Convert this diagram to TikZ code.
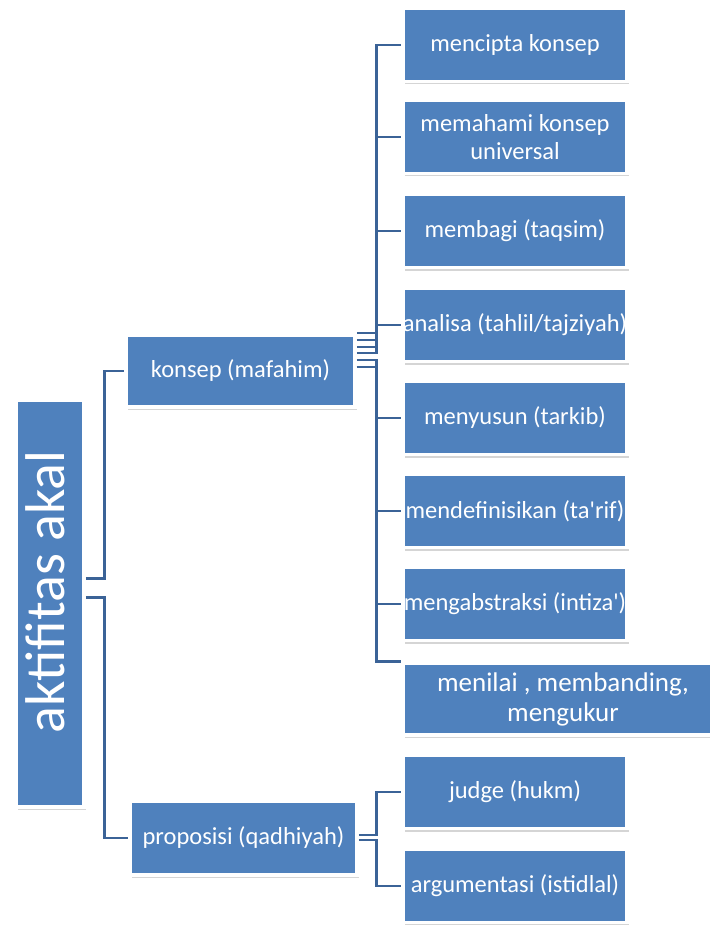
\documentclass[tikz,border=0pt]{standalone}
\usepackage{fontspec}
\setmainfont{Carlito}
\usepackage{xcolor}
\usetikzlibrary{positioning,shadows}

\definecolor{boxblue}{HTML}{4F81BD}
\definecolor{linkblue}{HTML}{3B6397}

\begin{document}
\begin{tikzpicture}[x=1pt, y=-1pt,
    box/.style={fill=boxblue, draw=white, line width=3.5pt, text=white,
        align=center, inner xsep=-8pt, inner ysep=2pt,
        minimum width=224pt, minimum height=73pt,
        font=\fontsize{24.5}{27.5}\selectfont,
        drop shadow={shadow xshift=2pt, shadow yshift=-3pt,
            opacity=0.3, fill=black!55}},
    link/.style={draw=linkblue, line width=2.8pt}]
    \useasboundingbox (0,0) rectangle (709,925);

    % Root
    \node[box, minimum width=68pt, minimum height=407pt] (root) at (50,603.5) {};
    \node[rotate=90, text=white, inner sep=0pt,
        font=\fontsize{56}{58}\selectfont] (rootlabel) at (45,592) {aktifitas akal};

    % Second level
    \node[box, minimum width=229pt, minimum height=72pt] (konsep) at (240.5,371) {konsep (mafahim)};
    \node[box, minimum width=227pt, minimum height=74pt] (proposisi) at (243.5,838) {proposisi (qadhiyah)};

    % Children of konsep
    \node[box] (mencipta)  at (515,45)  {mencipta konsep};
    \node[box] (memahami)  at (515,137) {memahami konsep\\universal};
    \node[box] (membagi)   at (515,231) {membagi (taqsim)};
    \node[box] (analisa)   at (515,325) {analisa (tahlil/tajziyah)};
    \node[box] (menyusun)  at (515,418) {menyusun (tarkib)};
    \node[box] (definisi)  at (515,511) {mendefinisikan (ta\textquotesingle rif)};
    \node[box] (abstraksi) at (515,604) {mengabstraksi (intiza\textquotesingle)};
    \node[box, minimum width=320pt, minimum height=72pt,
        font=\fontsize{27}{30}\selectfont] (menilai) at (563,699) {menilai , membanding,\\mengukur};

    % Children of proposisi
    \node[box] (judge)       at (515,792) {judge (hukm)};
    \node[box] (argumentasi) at (515,886) {argumentasi (istidlal)};

    % Root connectors
    \draw[link] ([yshift=25pt]root.east) -- ++(19,0) |- (konsep.west);
    \draw[link] ([yshift=6pt]root.east) -- ++(19,0) |- (proposisi.west);

    % Konsep connectors
    \foreach \c/\s in {mencipta/38pt, memahami/31pt, membagi/24pt, analisa/18pt,
                       menyusun/11pt, definisi/4pt, abstraksi/4pt} {
        \draw[link] ([yshift=\s]konsep.east) -- ++(20,0) |- (\c.west);
    }
    \draw[link] ([yshift=4pt]konsep.east) -- ++(20,0) |- (menilai.north west);

    % Proposisi connectors
    \draw[link] ([yshift=3pt]proposisi.east) -- ++(18,0) |- (judge.west);
    \draw[link] ([yshift=-2pt]proposisi.east) -- ++(18,0) |- (argumentasi.west);
\end{tikzpicture}
\end{document}
